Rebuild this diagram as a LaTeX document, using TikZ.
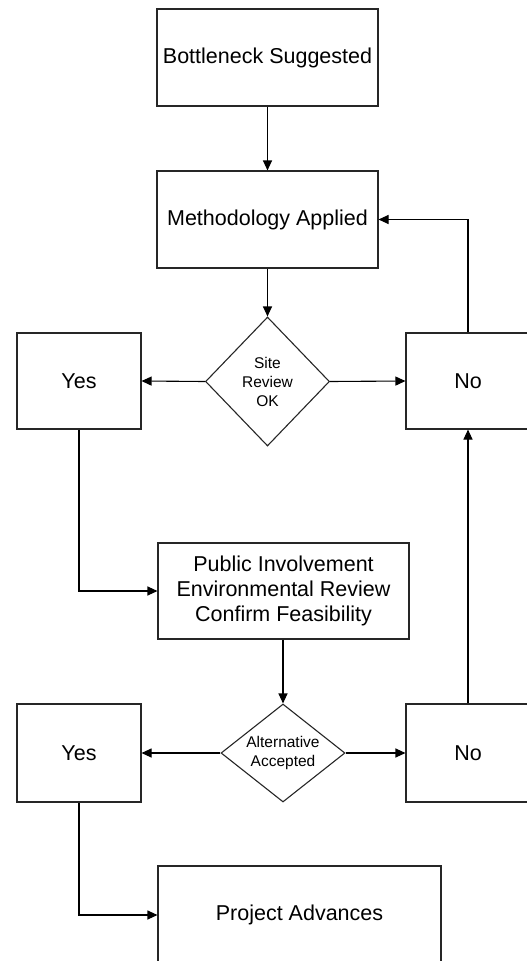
\documentclass[tikz,border=0pt]{standalone}
\usepackage{fontspec}
\setmainfont{Liberation Sans}
\usetikzlibrary{shapes.geometric,arrows.meta}
\begin{document}
\begin{tikzpicture}[x=1pt,y=-1pt,
  every node/.style={font=\fontsize{21.5}{25}\selectfont, align=center, line width=1.1pt, draw=black!85},
  box/.style={rectangle, inner sep=0pt},
  decision/.style={diamond, inner sep=0pt, font=\fontsize{15.5}{19}\selectfont},
  flow/.style={line width=1.1pt, draw=black, -{Triangle[length=10pt,width=9pt]}}
]
\useasboundingbox (0,0) rectangle (527,961);
\clip (0,0) rectangle (527,961);

% process boxes
\node[box, minimum width=221pt, minimum height=97pt] (start) at (267.5,57.5) {Bottleneck Suggested};
\node[box, minimum width=221pt, minimum height=97pt] (method) at (267.5,219.5) {Methodology Applied};
\node[box, minimum width=251pt, minimum height=96pt] (public) at (283.5,591) {Public Involvement\\Environmental Review\\Confirm Feasibility};
\node[box, minimum width=283pt, minimum height=98pt] (advance) at (299.5,915) {Project Advances};

% decisions
\node[decision, aspect=0.96, minimum width=124pt, minimum height=129pt] (site) at (267.5,381.5) {Site\\Review\\OK};
\node[decision, aspect=1.27, minimum width=124pt, minimum height=98pt] (alt) at (283,753) {Alternative\\Accepted};

% outcomes
\node[box, minimum width=124pt, minimum height=96pt] (yesA) at (79,381) {Yes};
\node[box, minimum width=124pt, minimum height=96pt] (noA) at (468,381) {No};
\node[box, minimum width=124pt, minimum height=98pt] (yesB) at (79,753) {Yes};
\node[box, minimum width=124pt, minimum height=98pt] (noB) at (468,753) {No};

% connectors
\draw[flow] (start.south) -- (method.north);
\draw[flow] (method.south) -- (site.north);
\draw[flow] (site.west) -- (yesA.east);
\draw[flow] (site.east) -- (noA.west);
\draw[flow] (noA.north) |- (method.east);
\draw[flow] (yesA.south) |- (public.west);
\draw[flow] (alt.north |- public.south) -- (alt.north);
\draw[flow] (alt.west) -- (yesB.east);
\draw[flow] (alt.east) -- (noB.west);
\draw[flow] (noB.north) -- (noA.south);
\draw[flow] (yesB.south) |- (advance.west);
\end{tikzpicture}
\end{document}
